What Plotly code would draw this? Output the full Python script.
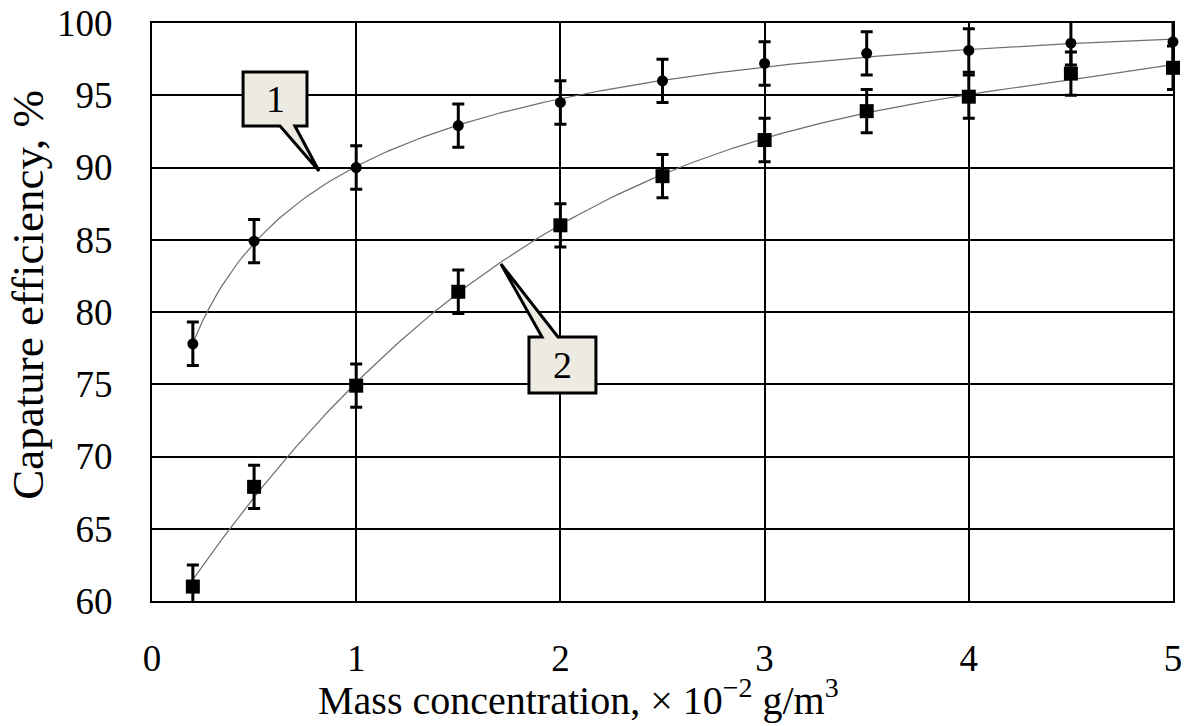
import numpy as np
import plotly.graph_objects as go

# Mass concentration, x 10^-2 g/m^3
conc = [0.2, 0.5, 1.0, 1.5, 2.0, 2.5, 3.0, 3.5, 4.0, 4.5, 5.0]
# Capture efficiency, %
eff_1 = [77.8, 84.9, 90.0, 92.9, 94.5, 96.0, 97.2, 97.9, 98.1, 98.6, 98.7]
eff_2 = [61.0, 67.9, 74.9, 81.4, 86.0, 89.4, 91.9, 93.9, 94.9, 96.5, 96.9]
err_1 = [1.5] * len(conc)
err_2 = [1.5] * len(conc)

x_ticks = [0, 1, 2, 3, 4, 5]
y_ticks = [60, 65, 70, 75, 80, 85, 90, 95, 100]

x_title = "Mass concentration, × 10<sup>−2</sup> g/m<sup>3</sup>"
y_title = "Capature efficiency, %"

SERIF = "Liberation Serif, Times New Roman, serif"
TICK_FS = 37
X_TITLE_FS = 40
Y_TITLE_FS = 45


def trend(xs, ys, deg=3, log_x=True):
    """Least-squares polynomial trend, sampled densely for a smooth line."""
    xs = np.asarray(xs, dtype=float)
    f = np.log if log_x else (lambda v: v)
    coef = np.polyfit(f(xs), np.asarray(ys, dtype=float), deg)
    xx = np.linspace(xs.min(), xs.max(), 200)
    return xx, np.polyval(coef, f(xx))


fig = go.Figure()

for ys, use_log in ((eff_1, True), (eff_2, False)):
    tx, ty = trend(conc, ys, log_x=use_log)
    fig.add_trace(go.Scatter(
        x=tx, y=ty, mode="lines",
        line=dict(color="#6e6e6e", width=1.2),
        hoverinfo="skip", showlegend=False, cliponaxis=False,
    ))

fig.add_trace(go.Scatter(
    x=conc, y=eff_1, mode="markers",
    marker=dict(symbol="circle", size=11, color="black"),
    error_y=dict(type="data", array=err_1, color="black", thickness=3, width=6),
    showlegend=False, cliponaxis=False,
))
fig.add_trace(go.Scatter(
    x=conc, y=eff_2, mode="markers",
    marker=dict(symbol="square", size=14, color="black"),
    error_y=dict(type="data", array=err_2, color="black", thickness=3, width=6),
    showlegend=False, cliponaxis=False,
))

# callout boxes labelling the curves
box_fill = "#ECEAE1"
c1 = dict(x0=0.446, x1=0.759, yt=96.61, yb=92.87, bl=0.627, br=0.700, tx=0.818, ty=89.76)
path1 = (f"M {c1['x0']},{c1['yt']} L {c1['x1']},{c1['yt']} L {c1['x1']},{c1['yb']} "
         f"L {c1['br']},{c1['yb']} L {c1['tx']},{c1['ty']} L {c1['bl']},{c1['yb']} "
         f"L {c1['x0']},{c1['yb']} Z")
c2 = dict(x0=1.846, x1=2.174, yt=78.27, yb=74.39, bl=1.910, br=1.988, tx=1.709, ty=83.32)
path2 = (f"M {c2['x0']},{c2['yb']} L {c2['x0']},{c2['yt']} L {c2['bl']},{c2['yt']} "
         f"L {c2['tx']},{c2['ty']} L {c2['br']},{c2['yt']} L {c2['x1']},{c2['yt']} "
         f"L {c2['x1']},{c2['yb']} Z")
for p in (path1, path2):
    fig.add_shape(type="path", path=p, xref="x", yref="y",
                  fillcolor=box_fill, line=dict(color="black", width=3), layer="above")

fig.add_annotation(x=(c1["x0"] + c1["x1"]) / 2, y=(c1["yt"] + c1["yb"]) / 2, text="1",
                   showarrow=False, font=dict(family=SERIF, size=38, color="black"))
fig.add_annotation(x=(c2["x0"] + c2["x1"]) / 2, y=(c2["yt"] + c2["yb"]) / 2, text="2",
                   showarrow=False, font=dict(family=SERIF, size=38, color="black"))

# axis titles
fig.add_annotation(xref="paper", yref="paper", x=0.418, y=-0.167,
                   xanchor="center", yanchor="middle", text=x_title, showarrow=False,
                   font=dict(family=SERIF, size=X_TITLE_FS, color="black"))
fig.add_annotation(xref="paper", yref="paper", x=-0.1214, y=0.530,
                   xanchor="center", yanchor="middle", text=y_title, textangle=-90,
                   showarrow=False, font=dict(family=SERIF, size=Y_TITLE_FS, color="black"))

axis_common = dict(
    showgrid=True, gridcolor="black", gridwidth=2,
    showline=True, linecolor="black", linewidth=2, mirror=True,
    zeroline=False, ticks="", automargin=False,
    tickfont=dict(family=SERIF, size=TICK_FS, color="black"),
)

fig.update_xaxes(range=[0, 5], tickvals=x_ticks, ticktext=[str(v) for v in x_ticks],
                 ticklabelstandoff=24, **axis_common)
fig.update_yaxes(range=[60, 100], tickvals=y_ticks, ticktext=[str(v) for v in y_ticks],
                 ticklabelstandoff=30, **axis_common)

fig.update_layout(
    width=1188, height=726,
    margin=dict(l=152, r=15, t=23, b=125),
    paper_bgcolor="white", plot_bgcolor="white",
    showlegend=False,
)

fig.write_html("out.html")
